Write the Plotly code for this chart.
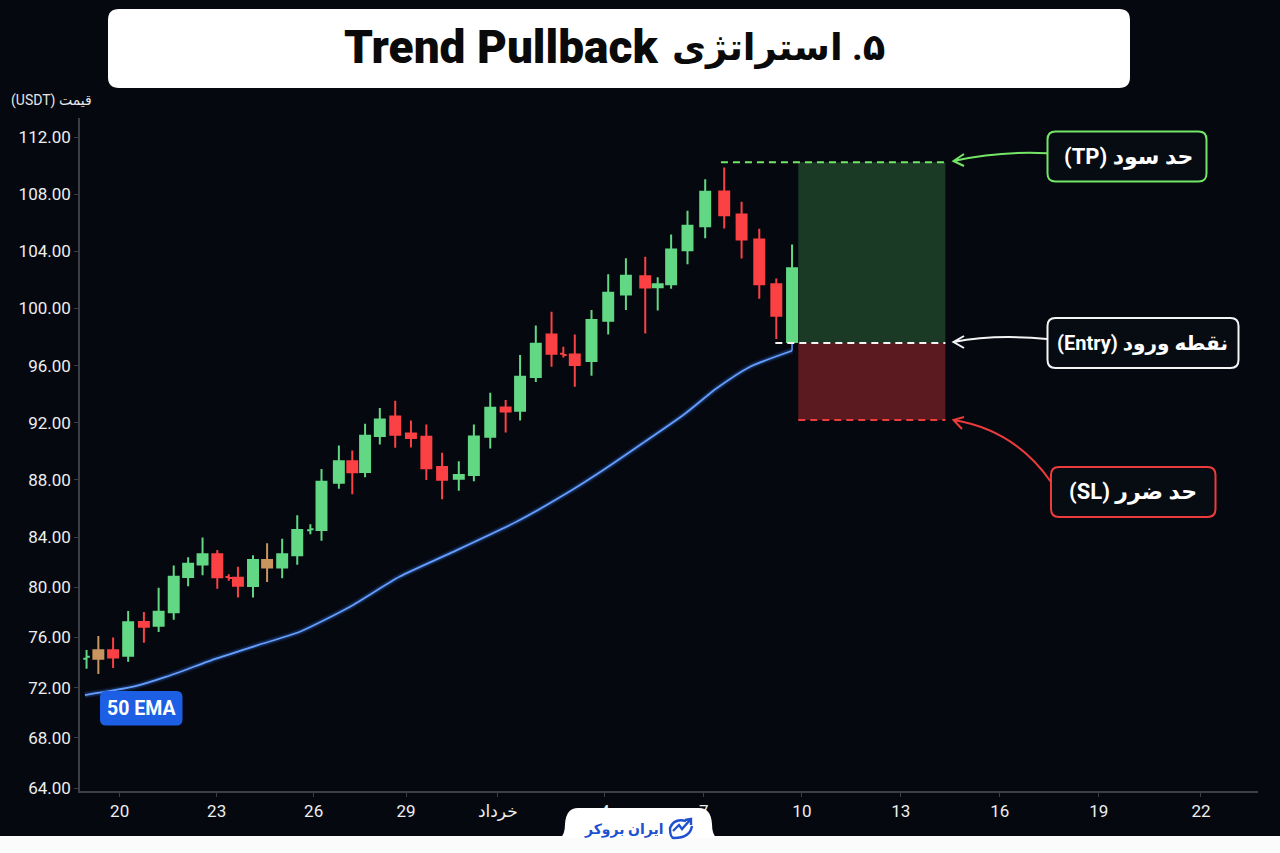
import numpy as np
import plotly.graph_objects as go

# Bar times in day numbers (day 32 is the first of خرداد)
TIME = [18.99, 19.35, 19.80, 20.26, 20.74, 21.19, 21.65, 22.09, 22.53, 22.98, 23.33, 23.61,
        24.07, 24.50, 24.96, 25.42, 25.82, 26.16, 26.69, 27.10, 27.49, 27.94, 28.41, 28.89,
        29.36, 29.84, 30.35, 30.81, 31.31, 31.78, 32.22, 32.70, 33.18, 33.54, 33.89, 34.40,
        34.91, 35.45, 36.04, 36.42, 36.83, 37.33, 37.87, 38.45, 38.98, 39.52, 40.04, 40.52]
OPEN = [74.31, 74.97, 74.97, 74.54, 77.23, 76.93, 78.00, 80.81, 81.82, 82.62, 80.81, 80.76,
        80.10, 82.17, 81.58, 82.54, 84.47, 84.49, 87.80, 89.30, 88.55, 91.07, 92.44, 91.25,
        91.02, 88.90, 88.08, 88.34, 91.02, 93.07, 92.84, 95.20, 98.18, 96.83, 96.78, 96.32,
        99.14, 100.98, 102.26, 101.49, 101.70, 104.08, 105.76, 108.19, 106.58, 104.83, 101.70, 97.65]
HIGH = [75.00, 76.11, 76.00, 78.10, 78.02, 79.96, 81.74, 82.38, 83.97, 82.96, 81.03, 81.64,
        82.54, 83.50, 83.87, 85.52, 84.89, 88.76, 90.41, 90.06, 91.93, 93.03, 93.54, 92.16,
        91.88, 89.90, 89.30, 91.88, 94.10, 93.59, 96.74, 98.81, 99.77, 97.32, 98.18, 99.89,
        102.40, 103.52, 103.62, 102.19, 105.18, 106.84, 109.05, 109.87, 107.47, 105.58, 102.10, 104.48]
LOW = [73.50, 73.08, 73.56, 74.07, 75.58, 76.43, 77.41, 80.07, 80.95, 79.88, 80.52, 79.19,
       79.19, 80.41, 80.71, 81.80, 84.19, 83.71, 87.38, 86.99, 88.18, 90.48, 90.25, 90.27,
       87.99, 86.64, 87.24, 87.90, 90.20, 91.32, 92.16, 94.85, 95.92, 96.57, 94.52, 95.29,
       98.18, 99.89, 98.25, 99.86, 101.38, 103.10, 104.92, 105.60, 103.50, 100.68, 97.86, 97.62]
CLOSE = [74.46, 74.31, 74.41, 77.20, 76.86, 78.05, 80.84, 81.88, 82.62, 80.79, 80.73, 80.12,
         82.17, 81.58, 82.62, 84.49, 84.54, 87.87, 89.30, 88.53, 91.09, 92.23, 91.16, 90.93,
         88.81, 88.01, 88.34, 91.04, 93.05, 92.79, 95.22, 97.53, 96.83, 96.74, 96.04, 99.19,
         101.10, 102.29, 101.47, 101.70, 104.13, 105.79, 108.17, 106.53, 104.83, 101.70, 99.49, 102.82]
DOJI_BARS = [0, 10, 16, 33]
TAN_BARS = [1, 13]

EMA_TIME = [18.94, 20.42, 21.43, 22.96, 24.22, 25.50, 27.03, 28.55, 30.08, 32.11, 33.64, 34.76,
            35.88, 37.20, 38.22, 39.24, 40.52]
EMA_50 = [71.41, 72.07, 72.87, 74.33, 75.39, 76.45, 78.45, 80.85, 82.70, 85.07, 87.06, 88.69,
          90.44, 92.54, 94.41, 95.92, 97.04]

TAKE_PROFIT = 110.24
ENTRY = 97.58
STOP_LOSS = 92.19
LEVEL_START = {"tp": 38.35, "entry": 40.01, "sl": 40.71}
ZONE_START, ZONE_END = 40.71, 45.2

PRICE_TICKS = [112, 108, 104, 100, 96, 92, 88, 84, 80, 76, 72, 68, 64]
DAY_TICKS = [20, 22.96, 25.92, 28.74, 31.54, 34.81, 37.83, 40.82, 43.84, 46.86, 49.88, 53.0]
DAY_LABELS = ["20", "23", "26", "29", "خرداد", "4", "7", "10", "13", "16", "19", "22"]

BG = "#05080f"
GREEN = "#62d885"
RED = "#fb4143"
TAN = "#c9955f"
EMA_COLOR = "#669fff"
BRAND = "#1e50d0"
LATIN_AR = "Roboto, 'DejaVu Sans', sans-serif"
W, H = 1280, 853
RLE, PDF = "\u202b", "\u202c"


def to_axis(price):
    """The price axis is tighter below 84: 12.55 px per unit against 14.29 above."""
    p = np.asarray(price, dtype=float)
    return np.where(p >= 84, p, 84 - (84 - p) * 12.55 / 14.29)


def px(x):
    return x / W


def py(y):
    return 1 - y / H


def path_of(points):
    return " ".join(f"{c} {px(x):.5f},{py(y):.5f}" if c in "ML" else
                    c + " " + " ".join(f"{px(a):.5f},{py(b):.5f}" for a, b in zip(x, y))
                    for c, x, y in points)


def rounded_box(x0, y0, x1, y1, r, fill, line=None, width=2):
    k = [("M", x0 + r, y0), ("L", x1 - r, y0),
         ("Q", (x1, x1), (y0, y0 + r)), ("L", x1, y1 - r),
         ("Q", (x1, x1 - r), (y1, y1)), ("L", x0 + r, y1),
         ("Q", (x0, x0), (y1, y1 - r)), ("L", x0, y0 + r),
         ("Q", (x0, x0 + r), (y0, y0))]
    return dict(type="path", xref="paper", yref="paper", path=path_of(k) + " Z",
                fillcolor=fill, line=dict(color=line or fill, width=width if line else 0),
                layer="above")


def curved_arrow(start, ctrl, tip, wing_a, wing_b, color):
    curve = path_of([("M", *start), ("Q", (ctrl[0], tip[0]), (ctrl[1], tip[1]))])
    head = path_of([("M", *wing_a), ("L", *tip), ("L", *wing_b)])
    return dict(type="path", xref="paper", yref="paper", path=curve + " " + head,
                line=dict(color=color, width=2), layer="above")


def label(x, y, text, size, color, weight="bold", family=LATIN_AR):
    return dict(xref="paper", yref="paper", x=px(x), y=py(y), text=text, showarrow=False,
                xanchor="center", yanchor="middle",
                font=dict(size=size, color=color, family=family, weight=weight))


def pick(values, idx):
    return [values[i] for i in idx]


normal = [i for i in range(len(TIME)) if i not in DOJI_BARS and i not in TAN_BARS]


def candles(idx, up, down):
    return go.Candlestick(
        x=pick(TIME, idx), open=to_axis(pick(OPEN, idx)), high=to_axis(pick(HIGH, idx)),
        low=to_axis(pick(LOW, idx)), close=to_axis(pick(CLOSE, idx)), whiskerwidth=0,
        increasing=dict(line=dict(color=up, width=2), fillcolor=up),
        decreasing=dict(line=dict(color=down, width=2), fillcolor=down),
        showlegend=False, hoverinfo="skip")


fig = go.Figure()

# Trade zones: reward above the entry, risk below it
fig.add_shape(type="rect", x0=ZONE_START, x1=ZONE_END, y0=float(to_axis(ENTRY)),
              y1=float(to_axis(TAKE_PROFIT)), fillcolor="#1a3a25", line_width=0, layer="below")
fig.add_shape(type="rect", x0=ZONE_START, x1=ZONE_END, y0=float(to_axis(STOP_LOSS)),
              y1=float(to_axis(ENTRY)), fillcolor="#5b1a1f", line_width=0, layer="below")

fig.add_trace(candles(normal, GREEN, RED))
fig.add_trace(candles(TAN_BARS, TAN, TAN))
fig.add_trace(go.Ohlc(
    x=pick(TIME, DOJI_BARS), open=to_axis(pick(OPEN, DOJI_BARS)), high=to_axis(pick(HIGH, DOJI_BARS)),
    low=to_axis(pick(LOW, DOJI_BARS)), close=to_axis(pick(CLOSE, DOJI_BARS)), tickwidth=0.04,
    increasing=dict(line=dict(color=GREEN, width=2)), decreasing=dict(line=dict(color=RED, width=2)),
    showlegend=False, hoverinfo="skip"))

# 50 EMA with a soft glow underneath
for width, color in [(7, "rgba(60,130,255,0.10)"), (4.5, "rgba(60,130,255,0.20)"), (1.8, EMA_COLOR)]:
    fig.add_trace(go.Scatter(x=EMA_TIME, y=to_axis(EMA_50), mode="lines",
                             line=dict(color=color, width=width, shape="spline", smoothing=0.6),
                             showlegend=False, hoverinfo="skip"))
fig.add_trace(go.Scatter(x=[EMA_TIME[-1]] * 2, y=to_axis([EMA_50[-1], ENTRY]), mode="lines",
                         line=dict(color=EMA_COLOR, width=1.5), showlegend=False, hoverinfo="skip"))

# Dashed trade levels
for start, level, color in [(LEVEL_START["tp"], TAKE_PROFIT, "#74e666"),
                            (LEVEL_START["entry"], ENTRY, "#f4f4f4"),
                            (LEVEL_START["sl"], STOP_LOSS, "#ee3c3c")]:
    fig.add_trace(go.Scatter(x=[start, ZONE_END], y=to_axis([level, level]), mode="lines",
                             line=dict(color=color, width=2, dash="7px,5px"),
                             showlegend=False, hoverinfo="skip"))

shapes = [
    rounded_box(108, 9, 1130, 88, 11, "#ffffff"),
    rounded_box(1047.5, 131.5, 1206.5, 181.5, 8, "#070b12", "#74e666"),
    rounded_box(1047.5, 318, 1238.5, 368, 8, "#070b12", "#f4f4f4"),
    rounded_box(1051, 467, 1215.5, 517, 8, "#070b12", "#ee3c3c"),
    rounded_box(100, 691, 182.5, 725.5, 6, "#1c5fe4"),
    curved_arrow((1047, 153.3), (1000, 151), (953.5, 161), (964, 154), (964, 166), "#74e666"),
    curved_arrow((1047, 339), (995, 334), (953.5, 342), (964, 336), (964, 348), "#f4f4f4"),
    curved_arrow((1051, 482), (1015, 430), (953.5, 420), (964, 417), (962, 429), "#ee3c3c"),
    # Footer strip and brand tab
    dict(type="rect", xref="paper", yref="paper", x0=0, x1=1, y0=0, y1=py(836),
         fillcolor="#fbfbfb", line_width=0, layer="above"),
    dict(type="path", xref="paper", yref="paper", layer="above", fillcolor="#ffffff", line_width=0,
         path=path_of([("M", 560, 838), ("Q", (565, 565), (835, 824)), ("Q", (566, 578), (808, 808)),
                       ("L", 699, 808), ("Q", (711, 712), (808, 824)), ("Q", (712, 717), (835, 838))]) + " Z"),
    # Brand mark: ring and rising arrow
    dict(type="path", xref="paper", yref="paper", layer="above", line=dict(color=BRAND, width=2.4),
         path=path_of([("M", 686, 821), ("Q", (674, 670), (818, 828)), ("Q", (670, 674), (838, 838)),
                       ("Q", (690, 692), (838, 826))])),
    dict(type="path", xref="paper", yref="paper", layer="above", line=dict(color=BRAND, width=2.4),
         path=path_of([("M", 673, 831), ("L", 679, 825), ("L", 682, 829), ("L", 690, 820),
                       ("M", 685, 820), ("L", 691, 819), ("L", 691, 825)])),
]

annotations = [
    label(501, 47, "Trend Pullback", 46, "#0a0a0a", weight=900),
    label(778, 47, RLE + "۵. استراتژی" + PDF, 37, "#0a0a0a"),
    label(1128, 157, RLE + "حد سود (TP)" + PDF, 22, "#ffffff"),
    label(1142, 343, RLE + "نقطه ورود (Entry)" + PDF, 20, "#ffffff"),
    label(1133, 492, RLE + "حد ضرر (SL)" + PDF, 22, "#ffffff"),
    label(141.5, 708, "50 EMA", 19.5, "#ffffff"),
    label(51, 100, RLE + "قیمت (USDT)" + PDF, 14, "#e6e6e6", weight="normal"),
    label(624, 829, "ایران بروکر", 14, BRAND),
]

fig.update_layout(
    width=W, height=H, autosize=False, margin=dict(l=0, r=0, t=0, b=0, pad=0, autoexpand=False),
    paper_bgcolor=BG, plot_bgcolor=BG, showlegend=False, boxgap=0.2, boxgroupgap=0,
    shapes=list(fig.layout.shapes) + shapes, annotations=annotations,
    font=dict(family=LATIN_AR, color="#eeeeee", size=17),
    xaxis=dict(domain=[px(80), px(1258)], range=[18.79, 54.74], tickmode="array",
               tickvals=DAY_TICKS, ticktext=DAY_LABELS, showgrid=False, zeroline=False,
               rangeslider=dict(visible=False), showline=True, linecolor="#3b3e47", linewidth=1.5,
               ticks="outside", ticklen=4, tickcolor="#3b3e47", tickfont=dict(size=17, color="#eeeeee")),
    yaxis=dict(domain=[py(791), py(118)], range=[float(to_axis(64)) - 0.21, 113.33], tickmode="array",
               tickvals=to_axis(PRICE_TICKS), ticktext=[f"{p:.2f}" for p in PRICE_TICKS],
               showgrid=False, zeroline=False, showline=True, linecolor="#3b3e47", linewidth=1.5,
               ticks="outside", ticklen=4, tickcolor="#3b3e47", tickfont=dict(size=17, color="#eeeeee")),
)

fig.write_html("out.html")
